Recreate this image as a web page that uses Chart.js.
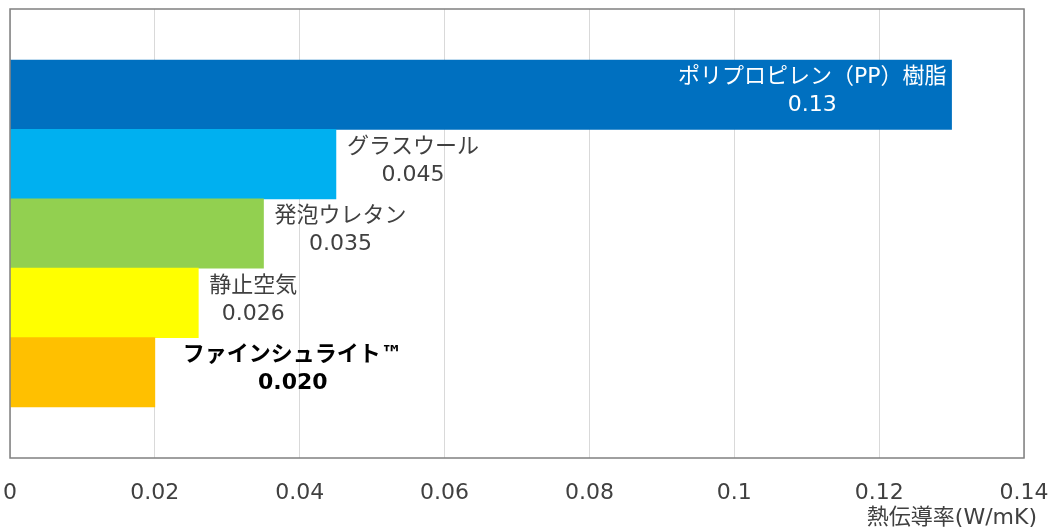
<!DOCTYPE html>
<html><head><meta charset="utf-8">
<script src="https://cdn.jsdelivr.net/npm/chart.js@4"></script>
<style>html,body{margin:0;padding:0;background:#fff}#wrap{width:1054px;height:532px}</style>
</head><body><div id="wrap"><canvas id="c"></canvas></div>
<script>
const categories = ['ポリプロピレン（PP）樹脂', 'グラスウール', '発泡ウレタン', '静止空気', 'ファインシュライト™'];
const values = [0.13, 0.045, 0.035, 0.026, 0.020];
const valueLabels = ['0.13', '0.045', '0.035', '0.026', '0.020'];
const barColors = ['#0070C0', '#00B0F0', '#92D050', '#FFFF00', '#FFC000'];
const tickLabels = ['0', '0.02', '0.04', '0.06', '0.08', '0.1', '0.12', '0.14'];
const axisTitle = '熱伝導率(W/mK)';

const FONT = "'DejaVu Sans','Noto Sans CJK JP'";

const labelPlugin = {
  id: 'labels',
  afterDatasetsDraw(chart, args, opts) {
    const {ctx, chartArea: a, scales: {x, y}} = chart;
    ctx.save();
    ctx.strokeStyle = '#808080';
    ctx.lineWidth = 1.5;
    ctx.strokeRect(a.left, a.top, a.right - a.left, a.bottom - a.top);
    ctx.textBaseline = 'middle';
    ctx.textAlign = 'center';
    categories.forEach((c, i) => {
      const xe = x.getPixelForValue(values[i]);
      const yc = y.getPixelForValue(i + 1);
      const bold = i === categories.length - 1;
      ctx.font = (bold ? 'bold ' : '') + '22px ' + FONT;
      const w1 = ctx.measureText(c).width;
      const w2 = ctx.measureText(valueLabels[i]).width;
      const W = Math.max(w1, w2);
      const gap = opts.gaps[i];
      let cx;
      if (i === 0) {
        ctx.fillStyle = '#FFFFFF';
        cx = xe - gap - W / 2;
      } else {
        ctx.fillStyle = bold ? '#000000' : '#404040';
        cx = xe + gap + W / 2;
      }
      ctx.fillText(c, cx, yc - 17);
      ctx.fillText(valueLabels[i], cx, yc + 11);
    });
    ctx.font = '22px ' + FONT;
    ctx.fillStyle = '#404040';
    ctx.textAlign = 'right';
    ctx.fillText(axisTitle, a.right + 13, 518);
    ctx.restore();
  }
};

new Chart(document.getElementById('c'), {
  type: 'bar',
  data: {
    datasets: [{
      data: values.map((v, i) => ({x: v, y: i + 1})),
      backgroundColor: barColors,
      borderWidth: 0,
      categoryPercentage: 1,
      barPercentage: 1
    }]
  },
  options: {
    indexAxis: 'y',
    responsive: true,
    maintainAspectRatio: false,
    animation: false,
    layout: {padding: {left: 10, top: 9, right: 30, bottom: 0}},
    plugins: {
      legend: {display: false},
      tooltip: {enabled: false},
      labels: {gaps: [5, 11, 11, 11, 28]}
    },
    scales: {
      y: {
        type: 'linear',
        reverse: true,
        offset: false,
        min: -0.235,
        max: 6.235,
        display: false,
        grid: {offset: false},
        ticks: {stepSize: 1, includeBounds: false}
      },
      x: {
        type: 'linear',
        min: 0,
        max: 0.14,
        grid: {color: '#D9D9D9', lineWidth: 1, drawTicks: false},
        border: {display: false},
        ticks: {
          stepSize: 0.02,
          padding: 22,
          color: '#404040',
          font: {size: 22, family: FONT},
          maxRotation: 0,
          autoSkip: false,
          callback: (v, idx) => tickLabels[idx]
        },
        afterFit(s) { s.height = 74; s.paddingLeft = 0; s.paddingRight = 0; }
      }
    }
  },
  plugins: [labelPlugin]
});
</script>
</body></html>
